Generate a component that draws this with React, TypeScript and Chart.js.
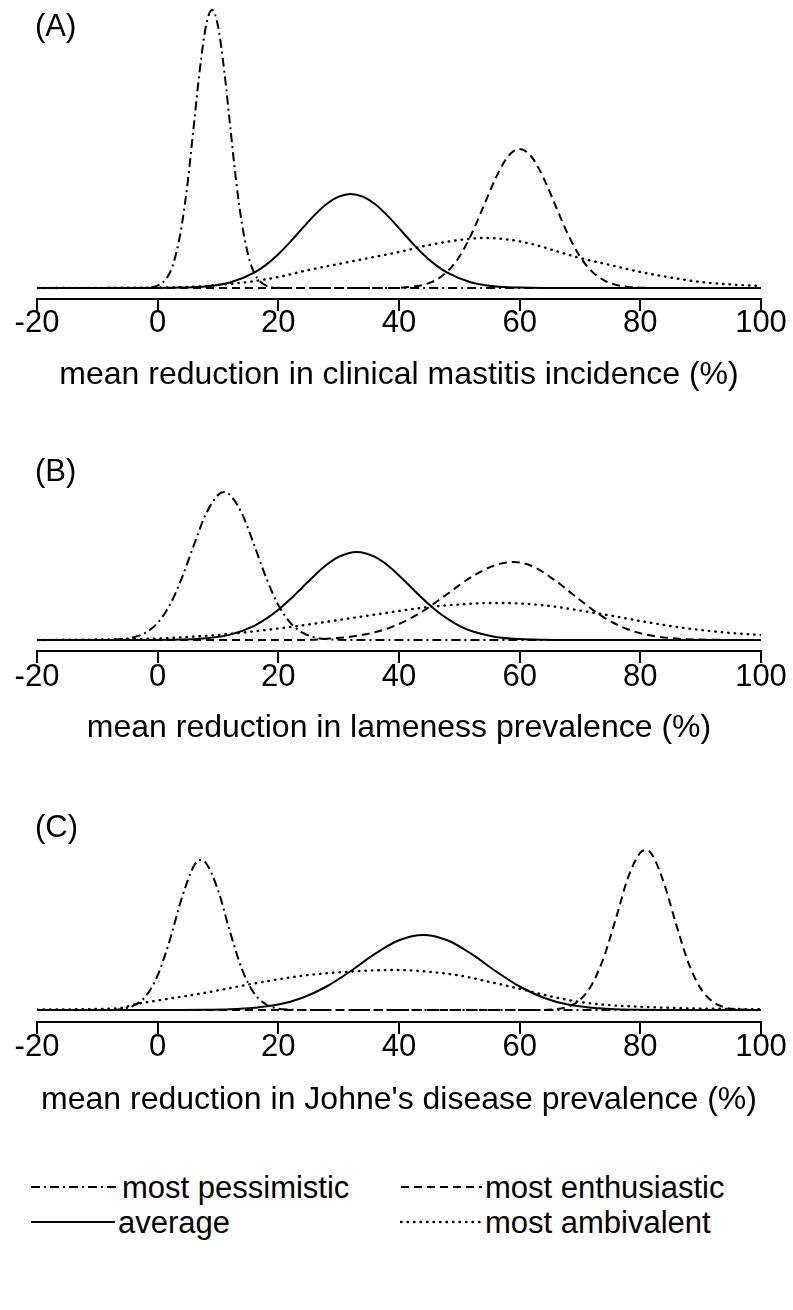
import React, { useEffect, useRef } from "react";
import { Chart, registerables } from "chart.js";

Chart.register(...registerables);

type Pt = [number, number];

// ---------- axis ----------
const X_MIN = -20;
const X_MAX = 100;
const X_STEP = 20;

// ---------- labels ----------
const PANEL_TAGS = ["(A)", "(B)", "(C)"];
const X_TITLES = [
  "mean reduction in clinical mastitis incidence (%)",
  "mean reduction in lameness prevalence (%)",
  "mean reduction in Johne's disease prevalence (%)",
];
const SERIES_NAMES = ["most pessimistic", "most enthusiastic", "average", "most ambivalent"];

// ---------- Panel A: clinical mastitis (relative density) ----------
const A_pessimistic: Pt[] = [[-20,0],[-4,0],[-2,0.2],[0,2.3],[2,15],[3,33],[4,63],[5,107],[6,163],[7,219],[8,262],[9,278],[10,262],[11,219],[12,163],[13,107],[14,63],[15,33],[16,15],[18,2.3],[20,0.2],[22,0],[100,0]];
const A_enthusiastic: Pt[] = [[-20,0],[38,0],[42,1.1],[44,3.1],[46,7.6],[48,16.4],[50,31.4],[52,53.7],[54,81.5],[56,109.5],[58,131],[60,139],[62,131],[64,109.5],[66,81.5],[68,53.7],[70,31.4],[72,16.4],[74,7.6],[76,3.1],[78,1.1],[80,0.3],[84,0],[100,0]];
const A_average: Pt[] = [[-20,0],[0,0],[4,0.4],[8,1.6],[12,5.5],[16,15.3],[18,23.4],[20,33.8],[22,46.3],[24,59.8],[26,72.9],[28,84],[30,91.3],[32,94],[34,91.3],[36,84],[38,72.9],[40,59.8],[42,46.3],[44,33.8],[46,23.4],[48,15.3],[52,5.5],[56,1.6],[60,0.4],[64,0],[100,0]];
const A_ambivalent: Pt[] = [[-20,0],[0,0.5],[5,1],[10,3],[15,6],[20,11],[25,18],[30,24],[35,30],[40,36],[45,43],[50,48],[54,50],[58,48.5],[62,44],[66,37],[70,30],[75,23],[80,16],[85,10.5],[90,6],[95,3.5],[100,2]];

// ---------- Panel B: lameness ----------
const B_pessimistic: Pt[] = [[-20,0],[-8,0],[-6,0.9],[-4,2.7],[-2,7.3],[0,17.2],[2,34.9],[4,61.9],[6,94.9],[8,126],[10,145],[11,148],[12,145],[14,126],[16,94.9],[18,61.9],[20,34.9],[22,17.2],[24,7.3],[26,2.7],[28,0.9],[30,0.2],[32,0],[100,0]];
const B_enthusiastic: Pt[] = [[-20,0],[24,0],[28,1.2],[32,3.3],[36,7.7],[40,16],[44,29],[48,46],[52,63],[56,75],[59,78],[62,74],[66,59],[70,40],[74,22.4],[78,10.5],[82,4.2],[86,1.4],[90,0.4],[94,0.1],[98,0],[100,0]];
const B_average: Pt[] = [[-20,0],[0,0],[4,0.4],[8,1.7],[12,5.4],[16,14.2],[18,21.3],[20,30.3],[22,41],[24,52.8],[26,64.6],[28,75.2],[30,83.1],[33,88],[36,83.1],[38,75.2],[40,64.6],[42,52.8],[44,41],[46,30.3],[48,21.3],[50,14.2],[52,9],[56,3.1],[60,0.9],[64,0.2],[68,0],[100,0]];
const B_ambivalent: Pt[] = [[-20,0],[-10,0.5],[0,1.5],[5,3],[10,5],[15,8],[20,11.5],[25,15.5],[30,20],[35,24.5],[40,29],[45,33],[50,35.5],[55,37],[60,36.5],[65,34],[70,29.5],[75,24.5],[80,19],[85,14],[90,10],[95,7],[100,5]];

// ---------- Panel C: Johne's disease ----------
const C_pessimistic: Pt[] = [[-20,0],[-8,0],[-6,1.1],[-4,4.3],[-2,13.6],[0,34.6],[2,69.7],[4,112],[6,144],[7,150],[8,147],[10,120],[12,78],[14,40.4],[16,16.6],[18,5.5],[20,1.4],[22,0.3],[24,0],[100,0]];
const C_enthusiastic: Pt[] = [[-20,0],[62,0],[66,0.9],[68,3.4],[70,10.1],[72,25.8],[74,53.6],[76,92.6],[78,133],[80,157.4],[81,160],[82,154.8],[84,125.4],[86,84.4],[88,46.7],[90,21.6],[92,8.3],[94,2.6],[96,0.7],[98,0.2],[100,0]];
const C_average: Pt[] = [[-20,0],[4,0],[8,0.2],[12,0.7],[16,2.2],[20,5.4],[24,12.3],[28,23.5],[32,39],[36,56.1],[40,69.7],[44,75],[48,69.7],[52,56.1],[56,39],[60,23.5],[64,12.3],[68,5.4],[72,2.2],[76,0.7],[80,0.2],[84,0],[100,0]];
const C_ambivalent: Pt[] = [[-20,0.5],[-10,1],[-6,2.1],[-4,5.3],[0,9.5],[5,14.3],[10,19.6],[15,25.4],[20,30.7],[25,35],[30,37.6],[35,39.4],[40,40],[45,38.2],[50,34.5],[55,28.1],[60,21.2],[65,13.8],[70,8],[75,4.8],[80,3.2],[85,2.1],[90,1.4],[95,1.1],[100,0.7]];

const DASHES: Record<string, number[]> = {
  "most pessimistic": [9, 4, 2, 4],
  "most enthusiastic": [8, 5],
  average: [],
  "most ambivalent": [0.5, 6],
};
const CAPS: Record<string, "butt" | "round"> = {
  "most pessimistic": "butt",
  "most enthusiastic": "butt",
  average: "butt",
  "most ambivalent": "round",
};

const FONT = '"Liberation Sans", Arial, Helvetica, sans-serif';
const FS_TICK = 31;
const FS_TITLE = 32;
const FS_TEXT = 31;
const INK = "#000";

type PanelCfg = {
  tag: string;
  title: string;
  curves: Pt[][]; // order: pessimistic, enthusiastic, average, ambivalent
  top: number; // canvas top (page px)
  plotTop: number; // page y of plot area top
  axisY: number; // page y of axis line
  baseGap: number; // px between zero line and axis
  tickLabelY: number; // page y centre of tick labels
  titleY: number; // page y centre of axis title
  tagY: number; // centre of panel tag
};

const TICK_LEN = 12;
const TITLE_PAD = 6;

const PANELS: PanelCfg[] = [
  { tag: PANEL_TAGS[0], title: X_TITLES[0], curves: [A_pessimistic, A_enthusiastic, A_average, A_ambivalent],
    top: 0, plotTop: 4, axisY: 299, baseGap: 11, tickLabelY: 323, titleY: 375, tagY: 25 },
  { tag: PANEL_TAGS[1], title: X_TITLES[1], curves: [B_pessimistic, B_enthusiastic, B_average, B_ambivalent],
    top: 430, plotTop: 488, axisY: 651, baseGap: 11, tickLabelY: 677, titleY: 728, tagY: 470 },
  { tag: PANEL_TAGS[2], title: X_TITLES[2], curves: [C_pessimistic, C_enthusiastic, C_average, C_ambivalent],
    top: 790, plotTop: 845, axisY: 1022, baseGap: 12, tickLabelY: 1047, titleY: 1100, tagY: 826 },
];

function Panel({ cfg }: { cfg: PanelCfg }) {
  const ref = useRef<HTMLCanvasElement>(null);
  const height = Math.round(cfg.titleY + (FS_TITLE * 1.2) / 2 + TITLE_PAD - cfg.top);
  useEffect(() => {
    const canvas = ref.current!;
    const padTop = cfg.plotTop - cfg.top;
    const axisH = cfg.top + height - cfg.axisY;
    const plotH = cfg.axisY - cfg.plotTop;
    const tickPad = cfg.tickLabelY - cfg.axisY - TICK_LEN - FS_TICK / 2;
    const datasets = cfg.curves.map((c, i) => ({
      label: SERIES_NAMES[i],
      data: c.map(([x, y]) => ({ x, y })),
      borderColor: INK,
      borderWidth: i === 3 ? 2.4 : 2,
      borderDash: DASHES[SERIES_NAMES[i]],
      borderCapStyle: CAPS[SERIES_NAMES[i]],
      pointRadius: 0,
      fill: false,
      cubicInterpolationMode: "monotone" as const,
      borderJoinStyle: "round" as const,
    }));
    const chart = new Chart(canvas, {
      type: "line",
      data: { datasets },
      options: {
        responsive: false,
        animation: false,
        devicePixelRatio: 1,
        events: [],
        layout: { padding: { top: padTop, left: 37, right: 32, bottom: 0 } },
        plugins: { legend: { display: false }, tooltip: { enabled: false }, title: { display: false } },
        scales: {
          x: {
            type: "linear",
            min: X_MIN,
            max: X_MAX,
            ticks: { stepSize: X_STEP, autoSkip: false, maxRotation: 0, color: INK, padding: tickPad,
              font: { family: FONT, size: FS_TICK, lineHeight: 1 } },
            grid: { drawOnChartArea: false, drawTicks: true, tickLength: TICK_LEN, color: INK, lineWidth: 2 },
            border: { display: true, color: INK, width: 2 },
            title: { display: true, text: cfg.title, color: INK, font: { family: FONT, size: FS_TITLE },
              padding: { top: 0, bottom: TITLE_PAD } },
            afterFit: (s: any) => { s.height = axisH; },
          },
          y: { display: false, min: -cfg.baseGap, max: plotH - cfg.baseGap },
        },
      },
    } as any);
    return () => chart.destroy();
  }, []);
  return (
    <>
      <canvas ref={ref} width={793} height={height}
        style={{ position: "absolute", left: 0, top: cfg.top, width: 793, height }} />
      <div style={{ position: "absolute", left: 35, top: cfg.tagY - 18.5, font: `${FS_TEXT}px/37px ${FONT}`, color: INK }}>{cfg.tag}</div>
    </>
  );
}

const LEGEND_ROWS = [1187, 1222];

function LegendItem({ name, x, len, gap, y }: { name: string; x: number; len: number; gap: number; y: number }) {
  const dash = DASHES[name];
  return (
    <>
      <svg width={len + 4} height={10} style={{ position: "absolute", left: x, top: y - 5 }}>
        <line x1={1} y1={5} x2={len} y2={5} stroke={INK} strokeWidth={name === SERIES_NAMES[3] ? 2.4 : 2}
          strokeLinecap={CAPS[name]} strokeDasharray={dash.length ? dash.join(" ") : undefined} />
      </svg>
      <div style={{ position: "absolute", left: x + len + gap, top: y - 18.5, font: `${FS_TEXT}px/37px ${FONT}`, color: INK, whiteSpace: "nowrap" }}>{name}</div>
    </>
  );
}

export default function App() {
  return (
    <div style={{ position: "absolute", left: 0, top: 0, width: 793, height: 1310, background: "#fff" }}>
      {PANELS.map((p) => <Panel key={p.tag} cfg={p} />)}
      <LegendItem name={SERIES_NAMES[0]} x={30} len={87} gap={5} y={LEGEND_ROWS[0]} />
      <LegendItem name={SERIES_NAMES[1]} x={400} len={82} gap={3} y={LEGEND_ROWS[0]} />
      <LegendItem name={SERIES_NAMES[2]} x={30} len={85} gap={3} y={LEGEND_ROWS[1]} />
      <LegendItem name={SERIES_NAMES[3]} x={400} len={82} gap={3} y={LEGEND_ROWS[1]} />
    </div>
  );
}
